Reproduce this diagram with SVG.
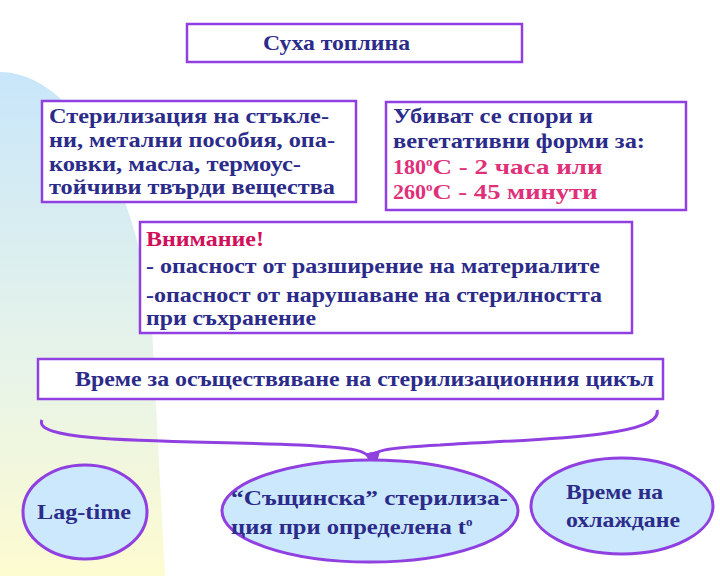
<svg xmlns="http://www.w3.org/2000/svg" width="720" height="576" viewBox="0 0 720 576" font-family="'Liberation Serif','DejaVu Serif',serif">
<defs>
<linearGradient id="bg" x1="0" y1="0" x2="0" y2="1">
<stop offset="0" stop-color="#c8e6fa"/><stop offset="0.6" stop-color="#e8f4e8"/><stop offset="1" stop-color="#fdfbd0"/>
</linearGradient>
<marker id="ar" viewBox="0 0 10 10" refX="5" refY="8" markerWidth="5" markerHeight="5" orient="auto"><path d="M0,0 L10,5 L0,10 Z" fill="#9040e0"/></marker>
</defs>
<style>
.b{fill:#fff;stroke:#9040e0;stroke-width:2.5}
.e{fill:#cce8fc;stroke:#9040e0;stroke-width:3}
text{font-family:'Liberation Serif','DejaVu Serif',serif;font-weight:bold;fill:#2b2b8a}
.p{fill:#e0307a}
.r{fill:#d0105a}
</style>
<rect width="720" height="576" fill="#fff"/>
<path d="M0,72 C70,72 140,180 152,330 L165,576 L0,576 Z" fill="url(#bg)"/>
<g id="n1"><rect class="b" x="187" y="24" width="335" height="38"/><text x="263" y="50" font-size="21" textLength="147" lengthAdjust="spacingAndGlyphs">Суха топлина</text></g>
<g id="n2"><rect class="b" x="42" y="101" width="314" height="101"/>
<text font-size="22"><tspan x="49" y="123" textLength="280" lengthAdjust="spacingAndGlyphs">Стерилизация на стъкле-</tspan><tspan x="49" y="147" textLength="286" lengthAdjust="spacingAndGlyphs">ни, метални пособия, опа-</tspan><tspan x="49" y="171" textLength="252" lengthAdjust="spacingAndGlyphs">ковки, масла, термоус-</tspan><tspan x="49" y="194" textLength="286" lengthAdjust="spacingAndGlyphs">тойчиви твърди вещества</tspan></text></g>
<g id="n3"><rect class="b" x="386" y="102" width="300" height="108"/>
<text font-size="22"><tspan x="393" y="123" textLength="200" lengthAdjust="spacingAndGlyphs">Убиват се спори и</tspan><tspan x="393" y="148" textLength="252" lengthAdjust="spacingAndGlyphs">вегетативни форми за:</tspan></text>
<text font-size="22" class="p" x="393" y="174">180<tspan font-size="13" dy="-8">о</tspan><tspan dy="8" textLength="170" lengthAdjust="spacingAndGlyphs">С - 2 часа или</tspan></text>
<text font-size="22" class="p" x="393" y="199">260<tspan font-size="13" dy="-8">о</tspan><tspan dy="8" textLength="165" lengthAdjust="spacingAndGlyphs">С - 45 минути</tspan></text></g>
<g id="n4"><rect class="b" x="140" y="222" width="492" height="111"/>
<text font-size="21" class="r" x="146" y="246" textLength="118" lengthAdjust="spacingAndGlyphs">Внимание!</text>
<text font-size="21"><tspan x="146" y="273" textLength="454" lengthAdjust="spacingAndGlyphs">- опасност от разширение на материалите</tspan><tspan x="146" y="302" textLength="456" lengthAdjust="spacingAndGlyphs">-опасност от нарушаване на стерилността</tspan><tspan x="146" y="325" textLength="170" lengthAdjust="spacingAndGlyphs">при съхранение</tspan></text></g>
<g id="n5"><rect class="b" x="38" y="359" width="625" height="40"/><text x="75" y="386" font-size="21" textLength="579" lengthAdjust="spacingAndGlyphs">Време за осъществяване на стерилизационния цикъл</text></g>
<g id="connectors"><path d="M42,420 C30,445 200,440 300,445 C355,448 368,450 370,460" fill="none" stroke="#9040e0" stroke-width="3" marker-end="url(#ar)"/><path d="M657,410 C665,440 500,440 440,445 C385,448 372,450 370,460" fill="none" stroke="#9040e0" stroke-width="3"/></g>
<g id="n6"><ellipse class="e" cx="85" cy="512" rx="62" ry="47"/><text x="37" y="519" font-size="22" textLength="94" lengthAdjust="spacingAndGlyphs">Lag-time</text></g>
<g id="n7"><ellipse class="e" cx="370" cy="511" rx="148" ry="51"/><text font-size="22"><tspan x="231" y="505" textLength="277" lengthAdjust="spacingAndGlyphs">“Същинска” стерилиза-</tspan><tspan x="231" y="534" textLength="235" lengthAdjust="spacingAndGlyphs">ция при определена t</tspan><tspan font-size="13" dy="-8">о</tspan></text></g>
<g id="n8"><ellipse class="e" cx="622" cy="506" rx="91" ry="48"/><text font-size="22"><tspan x="566" y="499" textLength="97" lengthAdjust="spacingAndGlyphs">Време на</tspan><tspan x="566" y="527" textLength="114" lengthAdjust="spacingAndGlyphs">охлаждане</tspan></text></g>
</svg>
